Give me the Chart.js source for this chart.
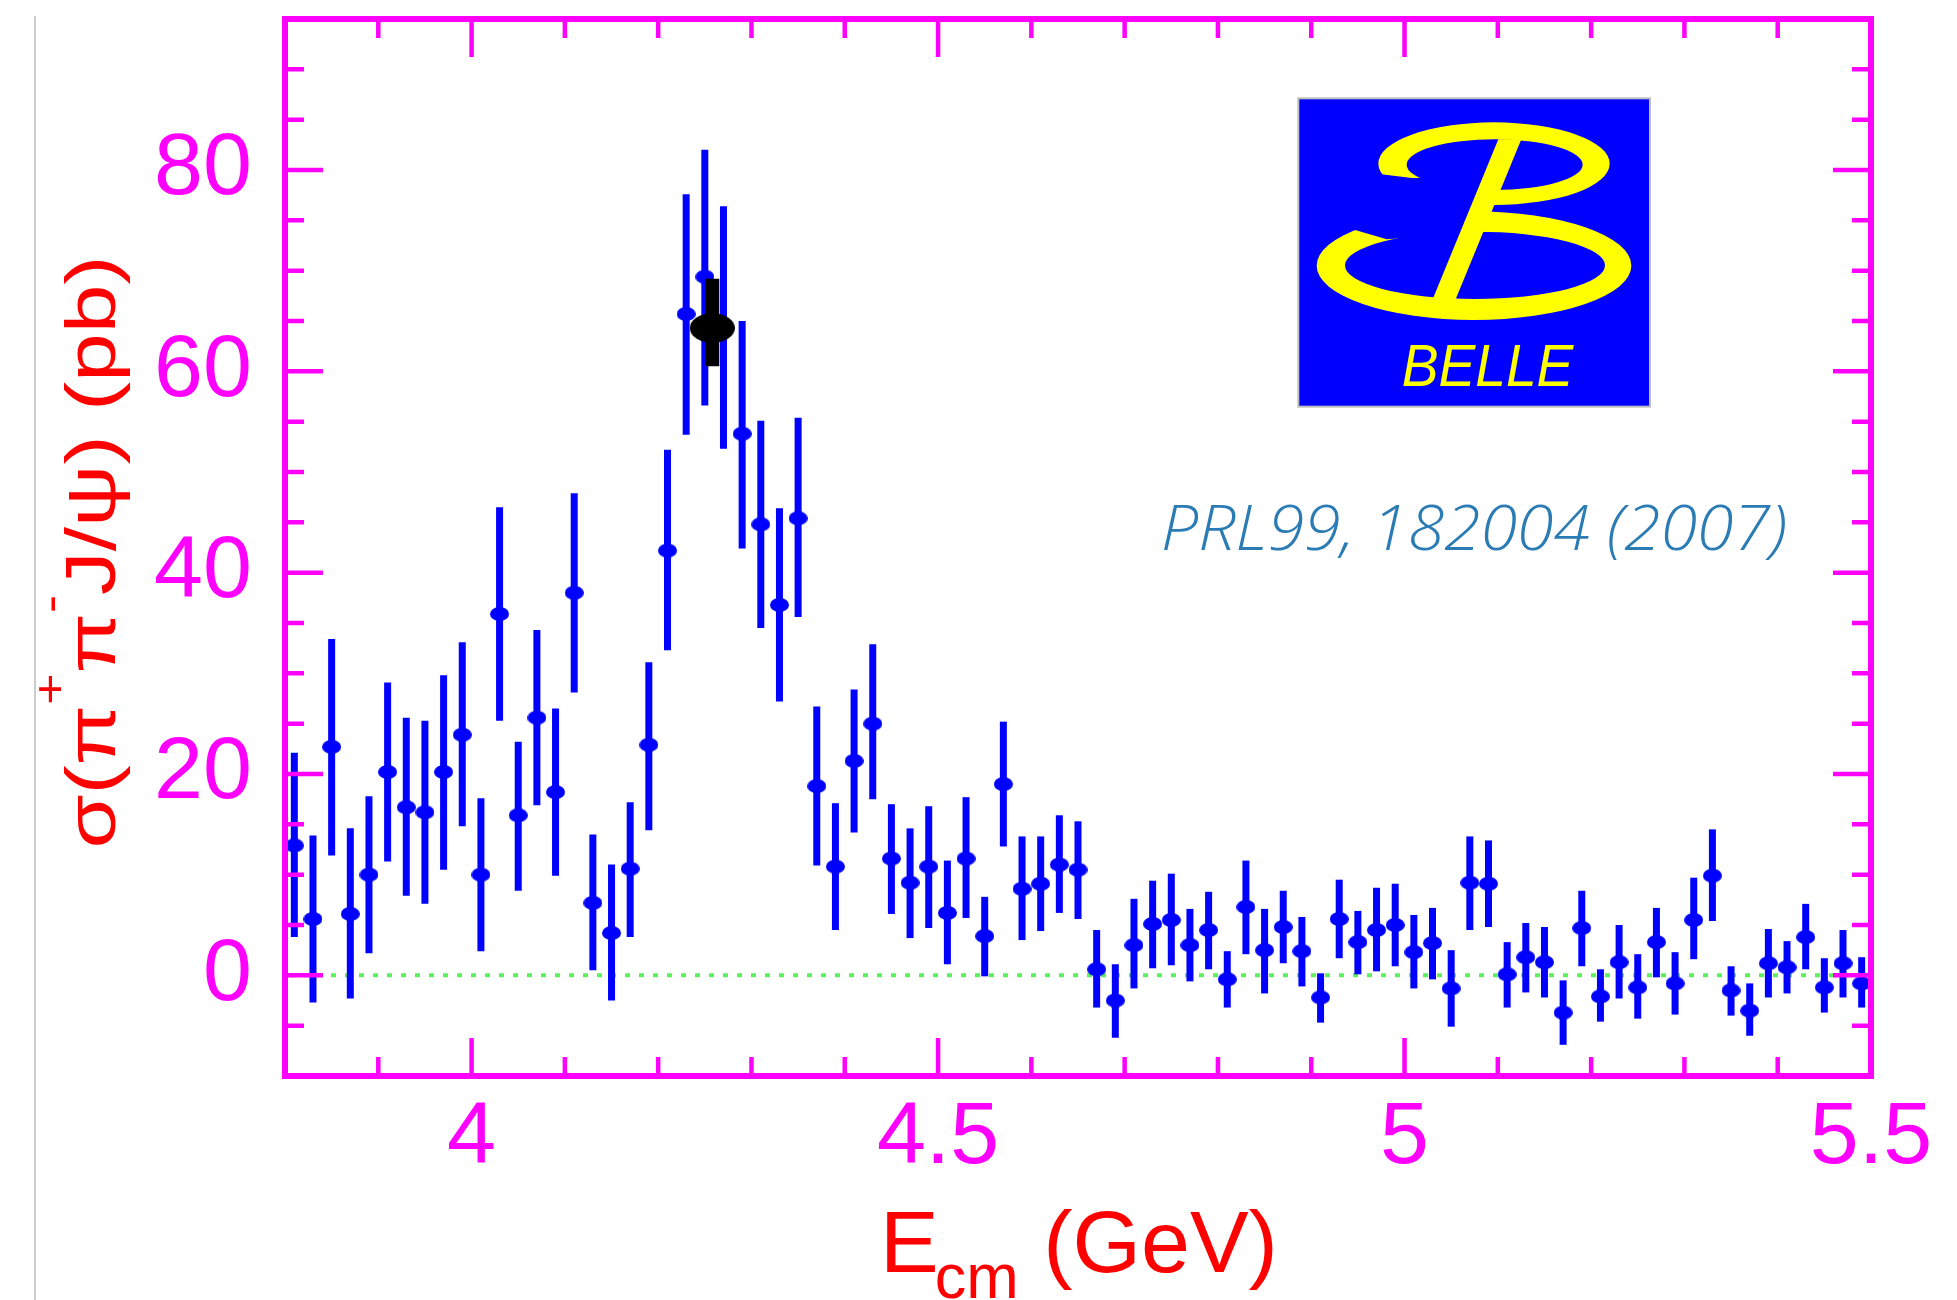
<!DOCTYPE html>
<html lang="en">
<head>
<meta charset="UTF-8">
<title>e+e- -> pi+pi- J/psi cross section</title>
<script src="https://cdn.jsdelivr.net/npm/chart.js"></script>
<style>
  html, body { margin: 0; padding: 0; background: #fff; }
  canvas { display: block; }
</style>
</head>
<body>
<canvas id="xsecChart" width="1957" height="1300"></canvas>
<script>
// Centre-of-mass energies (GeV), one bin every 20 MeV
const energy = [
  3.81, 3.83, 3.85, 3.87, 3.89, 3.91, 3.93, 3.95, 3.97, 3.99,
  4.01, 4.03, 4.05, 4.07, 4.09, 4.11, 4.13, 4.15, 4.17, 4.19,
  4.21, 4.23, 4.25, 4.27, 4.29, 4.31, 4.33, 4.35, 4.37, 4.39,
  4.41, 4.43, 4.45, 4.47, 4.49, 4.51, 4.53, 4.55, 4.57, 4.59,
  4.61, 4.63, 4.65, 4.67, 4.69, 4.71, 4.73, 4.75, 4.77, 4.79,
  4.81, 4.83, 4.85, 4.87, 4.89, 4.91, 4.93, 4.95, 4.97, 4.99,
  5.01, 5.03, 5.05, 5.07, 5.09, 5.11, 5.13, 5.15, 5.17, 5.19,
  5.21, 5.23, 5.25, 5.27, 5.29, 5.31, 5.33, 5.35, 5.37, 5.39,
  5.41, 5.43, 5.45, 5.47, 5.49
];

// Cross section (pb)
const xsec = [
  12.9, 5.6, 22.7, 6.1, 10.0, 20.2, 16.7, 16.2, 20.2, 23.9,
  10.0, 35.9, 15.9, 25.6, 18.2, 38.0, 7.2, 4.2, 10.6, 22.9,
  42.2, 65.7, 69.4, 64.4, 53.8, 44.8, 36.8, 45.4, 18.8, 10.8,
  21.3, 25.0, 11.6, 9.2, 10.8, 6.2, 11.6, 3.9, 19.0, 8.6,
  9.1, 11.0, 10.5, 0.6, -2.5, 3.0, 5.1, 5.5, 3.0, 4.5,
  -0.4, 6.8, 2.5, 4.8, 2.4, -2.2, 5.6, 3.3, 4.5, 5.0,
  2.3, 3.2, -1.3, 9.2, 9.1, 0.1, 1.8, 1.3, -3.7, 4.7,
  -2.1, 1.3, -1.2, 3.3, -0.8, 5.5, 9.9, -1.5, -3.5, 1.2,
  0.8, 3.8, -1.2, 1.2, -0.8
];

// Lower end of each error bar (pb)
const xsecLow = [
  3.8, -2.7, 11.9, -2.3, 2.2, 11.3, 7.9, 7.1, 10.5, 14.8,
  2.4, 25.3, 8.4, 16.9, 9.9, 28.1, 0.5, -2.5, 3.8, 14.4,
  32.3, 53.7, 56.6, 52.3, 42.4, 34.5, 27.2, 35.6, 10.9, 4.5,
  14.2, 17.5, 6.1, 3.7, 4.7, 1.1, 5.7, -0.1, 12.8, 3.5,
  4.4, 6.2, 5.6, -3.2, -6.2, -1.3, 0.7, 1.0, -0.6, 0.6,
  -3.2, 2.1, -1.8, 1.2, -1.1, -4.7, 1.7, 0.1, 0.4, 0.9,
  -1.3, -0.4, -5.1, 4.5, 4.8, -3.2, -1.7, -2.2, -6.9, 0.9,
  -4.6, -2.3, -4.3, -0.2, -3.9, 1.6, 5.4, -4.0, -6.0, -2.2,
  -1.8, 0.6, -3.7, -2.2, -3.2
];

// Upper end of each error bar (pb)
const xsecHigh = [
  22.1, 13.9, 33.4, 14.6, 17.8, 29.1, 25.6, 25.3, 29.8, 33.1,
  17.6, 46.5, 23.2, 34.3, 26.5, 47.9, 14.0, 11.0, 17.2, 31.1,
  52.2, 77.6, 82.0, 76.4, 65.0, 55.1, 46.4, 55.4, 26.7, 17.1,
  28.4, 32.9, 17.0, 14.6, 16.8, 11.4, 17.7, 7.8, 25.2, 13.8,
  13.8, 15.9, 15.3, 4.5, 1.1, 7.6, 9.4, 10.1, 6.6, 8.3,
  2.4, 11.4, 6.6, 8.4, 5.8, 0.2, 9.5, 6.4, 8.7, 9.1,
  6.0, 6.7, 2.5, 13.8, 13.4, 3.3, 5.2, 4.8, -0.5, 8.4,
  0.6, 5.0, 2.1, 6.7, 2.3, 9.7, 14.5, 0.9, -0.8, 4.6,
  3.4, 7.1, 1.7, 4.5, 1.8
];

// Peak point with its error
const peakEnergy = [4.258];
const peakXsec = [64.3];
const peakLow = [60.5];
const peakHigh = [69.2];

// Labelled ticks
const xTickValues = [4, 4.5, 5, 5.5];
const yTickValues = [0, 20, 40, 60, 80];

const MAGENTA = '#ff00ff';
const SANS = '"Liberation Sans", Arial, Helvetica, sans-serif';

function ellipseMarker(w, h, color) {
  const c = document.createElement('canvas');
  c.width = w;
  c.height = h;
  const g = c.getContext('2d');
  g.fillStyle = color;
  g.beginPath();
  g.ellipse(w / 2, h / 2, w / 2, h / 2, 0, 0, Math.PI * 2);
  g.fill();
  return c;
}

// white page, thin grey rule on the far left
const background = {
  id: 'background',
  beforeDraw(chart) {
    const ctx = chart.ctx;
    ctx.save();
    ctx.fillStyle = '#fff';
    ctx.fillRect(0, 0, chart.width, chart.height);
    ctx.strokeStyle = '#cccccc';
    ctx.lineWidth = 2;
    ctx.beginPath();
    ctx.moveTo(35, 16);
    ctx.lineTo(35, chart.height);
    ctx.stroke();
    ctx.restore();
  }
};

// dotted line at zero
const zeroLine = {
  id: 'zeroLine',
  beforeDatasetsDraw(chart) {
    const {ctx, chartArea: a, scales: {y}} = chart;
    const py = y.getPixelForValue(0);
    ctx.save();
    ctx.strokeStyle = '#5cf05c';
    ctx.lineWidth = 4;
    ctx.setLineDash([5, 9]);
    ctx.beginPath();
    ctx.moveTo(a.left + 4, py);
    ctx.lineTo(a.right - 4, py);
    ctx.stroke();
    ctx.restore();
  }
};

// vertical error bars, drawn just before each dataset's markers
const errorBars = {
  id: 'errorBars',
  beforeDatasetDraw(chart, args) {
    const ds = chart.data.datasets[args.index];
    if (!ds.low) return;
    const {ctx, scales: {x, y}} = chart;
    ctx.save();
    ctx.strokeStyle = ds.barColor;
    ctx.lineWidth = ds.barWidth;
    ctx.lineCap = 'butt';
    ds.data.forEach((p, i) => {
      const px = x.getPixelForValue(p.x);
      ctx.beginPath();
      ctx.moveTo(px, y.getPixelForValue(ds.low[i]));
      ctx.lineTo(px, y.getPixelForValue(ds.high[i]));
      ctx.stroke();
    });
    ctx.restore();
  }
};

// box around the plot with inward ticks on all four sides
const frame = {
  id: 'frame',
  afterDatasetsDraw(chart) {
    const {ctx, chartArea: a, scales: {x, y}} = chart;
    const major = 38, minor = 19;
    ctx.save();
    ctx.strokeStyle = MAGENTA;
    ctx.lineWidth = 4.5;
    ctx.beginPath();
    for (let k = 39; k <= 54; k++) {
      const v = k / 10;
      const px = x.getPixelForValue(v);
      const len = xTickValues.some(t => Math.abs(t - v) < 1e-6) ? major : minor;
      ctx.moveTo(px, a.bottom);
      ctx.lineTo(px, a.bottom - len);
      ctx.moveTo(px, a.top);
      ctx.lineTo(px, a.top + len);
    }
    for (let v = -5; v <= 90; v += 5) {
      const py = y.getPixelForValue(v);
      const len = yTickValues.includes(v) ? major : minor;
      ctx.moveTo(a.left, py);
      ctx.lineTo(a.left + len, py);
      ctx.moveTo(a.right, py);
      ctx.lineTo(a.right - len, py);
    }
    ctx.stroke();
    ctx.lineWidth = 6;
    ctx.strokeRect(a.left, a.top, a.right - a.left, a.bottom - a.top);
    ctx.restore();
  }
};

function drawRun(ctx, parts, x0, baseline) {
  let x = x0;
  parts.forEach(p => {
    ctx.font = p.size + 'px ' + SANS;
    ctx.fillText(p.text, x, baseline + p.dy);
    x += ctx.measureText(p.text).width + (p.gap || 0);
  });
}

function runWidth(ctx, parts) {
  let w = 0;
  parts.forEach(p => {
    ctx.font = p.size + 'px ' + SANS;
    w += ctx.measureText(p.text).width + (p.gap || 0);
  });
  return w;
}

function drawBelleLogo(ctx) {
  ctx.save();
  ctx.translate(1280, 90);
  ctx.scale(1 / 3, 1 / 3);
  ctx.fillStyle = '#0000ff';
  ctx.fillRect(55, 25, 1055, 925);
  ctx.strokeStyle = '#bdbdbd';
  ctx.lineWidth = 6;
  ctx.strokeRect(55, 25, 1055, 925);

  const yellow = '#ffff00', blue = '#0000ff';
  // lower loop
  ctx.fillStyle = yellow;
  ctx.beginPath();
  ctx.ellipse(582, 527, 472, 163, 0, 0, Math.PI * 2);
  ctx.moveTo(975, 526);
  ctx.ellipse(585, 526, 390, 101, 0, 0, Math.PI * 2);
  ctx.fill('evenodd');
  ctx.fillStyle = blue;
  ctx.beginPath();
  ctx.moveTo(200, 300); ctx.lineTo(580, 300); ctx.lineTo(580, 428);
  ctx.lineTo(320, 448); ctx.lineTo(228, 421); ctx.lineTo(200, 414);
  ctx.closePath();
  ctx.fill();
  // upper loop
  ctx.fillStyle = yellow;
  ctx.beginPath();
  ctx.ellipse(642, 221, 347, 124, 0, 0, Math.PI * 2);
  ctx.moveTo(908, 224);
  ctx.ellipse(644, 224, 264, 76, 0, 0, Math.PI * 2);
  ctx.fill('evenodd');
  ctx.fillStyle = blue;
  ctx.beginPath();
  ctx.moveTo(280, 250); ctx.lineTo(395, 264); ctx.lineTo(605, 264);
  ctx.lineTo(605, 362); ctx.lineTo(280, 362);
  ctx.closePath();
  ctx.fill();
  // slanted stem
  ctx.fillStyle = yellow;
  ctx.beginPath();
  ctx.moveTo(655, 148); ctx.lineTo(724, 148);
  ctx.lineTo(527, 628); ctx.lineTo(458, 628);
  ctx.closePath();
  ctx.fill();
  // name
  ctx.font = 'italic 180px ' + SANS;
  ctx.textBaseline = 'alphabetic';
  const w = ctx.measureText('BELLE').width;
  ctx.translate(365, 888);
  ctx.scale(515 / w, 1);
  ctx.fillText('BELLE', 0, 0);
  ctx.restore();
}

// axis titles, logo and reference
const annotations = {
  id: 'annotations',
  afterDraw(chart) {
    const ctx = chart.ctx;
    ctx.save();
    ctx.fillStyle = '#ff0000';
    ctx.textBaseline = 'alphabetic';
    ctx.textAlign = 'left';

    // x title: E_cm (GeV)
    const xParts = [
      {text: 'E', size: 88, dy: 0, gap: -4},
      {text: 'cm', size: 63, dy: 26, gap: 0},
      {text: ' (GeV)', size: 88, dy: 0}
    ];
    const xw = runWidth(ctx, xParts);
    drawRun(ctx, xParts, 1079 - xw / 2, 1272);

    // y title: sigma(pi+ pi- J/psi) (pb), rotated
    const yParts = [
      {text: 'σ(π', size: 71, dy: 0},
      {text: '+', size: 44, dy: -50},
      {text: 'π', size: 71, dy: 0},
      {text: '-', size: 44, dy: -50},
      {text: 'J/ψ) (pb)', size: 71, dy: 0}
    ];
    const yw = runWidth(ctx, yParts);
    ctx.save();
    ctx.translate(115, 552);
    ctx.rotate(-Math.PI / 2);
    ctx.scale(593 / yw, 1);
    drawRun(ctx, yParts, -yw / 2, 0);
    ctx.restore();
    ctx.restore();

    drawBelleLogo(ctx);

    ctx.save();
    ctx.fillStyle = '#2b7bb4';
    ctx.font = 'italic 300 63px "Open Sans", "Liberation Sans", sans-serif';
    ctx.textBaseline = 'alphabetic';
    const ref = 'PRL99, 182004 (2007)';
    const rw = ctx.measureText(ref).width;
    ctx.translate(1161, 550);
    ctx.scale(626 / rw, 1);
    ctx.fillText(ref, 0, 0);
    ctx.restore();
  }
};

const mainPoints = energy.map((e, i) => ({x: e, y: xsec[i]}));
const peakPoints = peakEnergy.map((e, i) => ({x: e, y: peakXsec[i]}));

// keep the plot box fixed regardless of tick label sizes
function noScalePadding(s) {
  s.paddingTop = 0;
  s.paddingBottom = 0;
  s.paddingLeft = 0;
  s.paddingRight = 0;
}

new Chart(document.getElementById('xsecChart'), {
  type: 'scatter',
  data: {
    datasets: [
      {
        label: 'peak',
        data: peakPoints,
        low: peakLow,
        high: peakHigh,
        barColor: '#000000',
        barWidth: 14,
        pointStyle: ellipseMarker(45, 30, '#000000'),
        pointRadius: 10
      },
      {
        label: 'Belle',
        data: mainPoints,
        low: xsecLow,
        high: xsecHigh,
        barColor: '#0000ff',
        barWidth: 7,
        pointStyle: ellipseMarker(19, 14, '#0000ff'),
        pointRadius: 8
      }
    ]
  },
  options: {
    responsive: false,
    devicePixelRatio: 1,
    animation: false,
    events: [],
    layout: {padding: {top: 19, right: 86, left: 0, bottom: 0}},
    plugins: {
      legend: {display: false},
      tooltip: {enabled: false}
    },
    scales: {
      x: {
        type: 'linear',
        min: 3.8,
        max: 5.5,
        offset: false,
        grid: {display: false, drawTicks: false, tickLength: 0},
        border: {display: false},
        afterBuildTicks: s => { s.ticks = xTickValues.map(v => ({value: v})); },
        afterFit: s => { s.height = 224; noScalePadding(s); },
        ticks: {
          color: MAGENTA,
          padding: 10,
          maxRotation: 0,
          font: {family: SANS, size: 88},
          callback: v => String(v)
        }
      },
      y: {
        type: 'linear',
        min: -10,
        max: 95,
        grid: {display: false, drawTicks: false, tickLength: 0},
        border: {display: false},
        afterBuildTicks: s => { s.ticks = yTickValues.map(v => ({value: v})); },
        afterFit: s => { s.width = 285; noScalePadding(s); },
        ticks: {
          color: MAGENTA,
          padding: 33,
          font: {family: SANS, size: 88},
          callback: v => String(v)
        }
      }
    }
  },
  plugins: [background, zeroLine, errorBars, frame, annotations]
});
</script>
</body>
</html>
